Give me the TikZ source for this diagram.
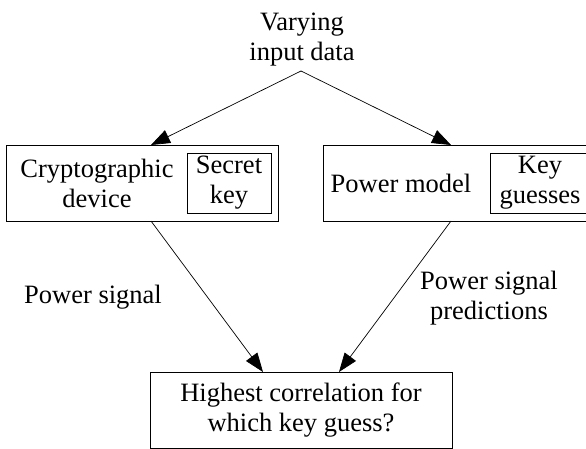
\documentclass[tikz,border=0pt]{standalone}
\usepackage{fontspec}
\setmainfont{Liberation Serif}
\usetikzlibrary{arrows.meta}
\begin{document}
\begin{tikzpicture}[x=1pt,y=-1pt,
  every node/.style={font=\fontsize{26.5}{30}\selectfont},
  txt/.style={align=center,inner sep=0pt},
  boxnode/.style={draw,line width=0.9pt,inner sep=0pt,align=center},
  conn/.style={line width=0.7pt,-{Triangle[length=19pt,width=14pt]}}]
\useasboundingbox (0,0) rectangle (586,449);
% source text
\node[txt] (src) at (302,40) {Varying\\input data};
\coordinate (apex) at (301,71);
% left box
\node[boxnode,minimum width=271.3pt,minimum height=76pt] (crypto) at (142.35,183) {};
\node[txt] (cryptotxt) at (97,183) {Cryptographic\\device};
\node[boxnode,minimum width=84pt,minimum height=60pt] (secret) at (229,183) {Secret\\key};
% right box
\node[boxnode,minimum width=277pt,minimum height=76pt] (model) at (461.5,183) {};
\node[txt] (modeltxt) at (401,183) {Power model};
\node[boxnode,minimum width=100pt,minimum height=60pt] (guesses) at (540,183) {Key\\guesses};
% bottom box
\node[boxnode,minimum width=302pt,minimum height=76pt] (corr) at (301,410) {Highest correlation for\\which key guess?};
% labels
\node[txt] (lsig) at (93,297) {Power signal};
\node[txt] (lpred) at (489,298) {Power signal\\predictions};
% arrow end points on box borders
\coordinate (t1) at (151,145);
\coordinate (t2) at (451,145);
\coordinate (s1) at (151,221);
\coordinate (s2) at (451,221);
\coordinate (b1) at (263,372);
\coordinate (b2) at (339,372);
\draw[conn] (apex) -- (t1);
\draw[conn] (apex) -- (t2);
\draw[conn] (s1) -- (b1);
\draw[conn] (s2) -- (b2);
\end{tikzpicture}
\end{document}
